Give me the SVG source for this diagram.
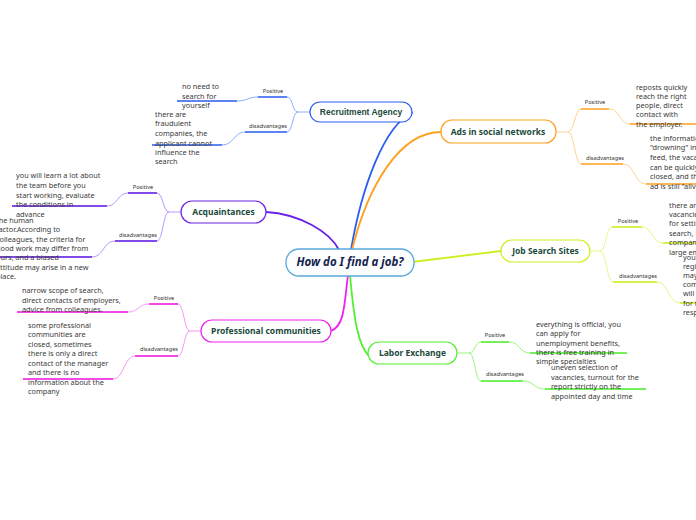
<svg xmlns="http://www.w3.org/2000/svg" width="696" height="520" viewBox="0 0 696 520">
<style>
.nt{font-family:"Noto Sans","Open Sans",sans-serif;font-weight:bold;font-size:8.5px;fill:#1b4a3c;text-anchor:middle}
.tx{font-family:"Noto Sans","Open Sans",sans-serif;font-size:7.3px;fill:#3a3a3a}
.lb{font-family:"Noto Sans","Open Sans",sans-serif;font-size:5.6px;fill:#333;text-anchor:middle}
.node{fill:#fff;stroke-width:1.2}
.thin{fill:none;stroke-width:0.9}
.thick{fill:none;stroke-width:1.6}
.main{fill:none;stroke-width:1.8;stroke-linecap:round}
</style>
<rect width="696" height="520" fill="#fff"/>
<g id="connectors">
 <path class="main" stroke="#2a5cf0" d="M351,250 C362,185 385,125 412,113"/>
 <path class="main" stroke="#ffa01e" d="M352,250 C368,185 400,132 441,132"/>
 <path class="main" stroke="#6a22e8" d="M339,250 C330,232 300,214 266,212"/>
 <path class="main" stroke="#ccf01e" d="M412,262 L501,251"/>
 <path class="main" stroke="#ee22ee" d="M348,275 C344,305 345,325 331,331"/>
 <path class="main" stroke="#55ee33" d="M350,275 C354,320 358,345 369,356"/>
 <g stroke="#2a5cf0">
  <path class="thin" stroke="#7fa4ff" d="M310,112 L298,112 C292,112 293,97 287,97 M298,112 C292,112 293,132 287,132 M258,97 C248,97 247,101 237,101 M245,132 C234,132 234,145 222,145"/>
  <path class="thick" d="M258,97 H287 M177,101 H237 M245,132 H287 M152,145 H222"/>
 </g>
 <g stroke="#5a10e0">
  <path class="thin" stroke="#b28cff" d="M181,212 L169,212 C163,212 163,193 157,193 M169,212 C163,212 163,241 157,241 M128,193 C117,193 118,206 107,206 M115,241 C103,241 104,257 92,257"/>
  <path class="thick" d="M128,193 H157 M12,206 H107 M115,241 H157 M-2,257 H92"/>
 </g>
 <g stroke="#ee11dd">
  <path class="thin" stroke="#f58cf0" d="M201,331 L190,331 C184,331 184,304 178,304 M190,331 C184,331 184,356 178,356 M149,304 C138,304 139,312 128,312 M135,356 C124,356 124,379 113,379"/>
  <path class="thick" d="M149,304 H178 M17,312 H128 M135,356 H178 M23,379 H113"/>
 </g>
 <g stroke="#ffa01e">
  <path class="thin" stroke="#ffcc88" d="M556,132 L568,132 C574,132 575,109 581,109 M568,132 C574,132 575,164 581,164 M609,109 C620,109 619,124 630,124 M623,164 C635,164 634,184 646,184"/>
  <path class="thick" d="M581,109 H609 M630,124 H700 M581,164 H623 M646,184 H700"/>
 </g>
 <g stroke="#ccee10">
  <path class="thin" stroke="#e4f47a" d="M590,251 L600,251 C606,251 606,227 612,227 M600,251 C606,251 607,282 613,282 M642,227 C653,227 652,243 663,243 M657,282 C669,282 668,303 680,303"/>
  <path class="thick" d="M612,227 H642 M663,243 H700 M613,282 H657 M680,303 H700"/>
 </g>
 <g stroke="#44ee22">
  <path class="thin" stroke="#8ef070" d="M457,353 L469,353 C475,353 475,342 481,342 M469,353 C475,353 475,381 481,381 M509,342 C520,342 519,353 530,353 M523,381 C534,381 534,389 545,389"/>
  <path class="thick" d="M481,342 H509 M530,353 H627 M481,381 H523 M545,389 H646"/>
 </g>
</g>
<g id="central">
 <rect x="286" y="249" width="128" height="27" rx="13" fill="#fbfdff" stroke="#5aa8dc" stroke-width="1.3"/>
 <text x="350" y="266" font-family="'Noto Sans','Open Sans',sans-serif" font-size="11.5" font-weight="bold" font-style="italic" fill="#16244f" text-anchor="middle">How do I find a job?</text>
</g>
<g id="recruitment">
 <rect class="node" stroke="#2a5cf0" x="310" y="102" width="102" height="20" rx="10"/>
 <text class="nt" x="361" y="115" style="font-family:'Liberation Sans',sans-serif">Recruitment Agency</text>
 <text class="lb" x="273" y="93">Positive</text>
 <text class="lb" x="268" y="128">disadvantages</text>
 <text class="tx"><tspan x="182" y="89">no need to</tspan><tspan x="182" y="99">search for</tspan><tspan x="182" y="108">yourself</tspan></text>
 <text class="tx"><tspan x="155" y="117">there are</tspan><tspan x="155" y="126">fraudulent</tspan><tspan x="155" y="136">companies, the</tspan><tspan x="155" y="145.5">applicant cannot</tspan><tspan x="155" y="155">influence the</tspan><tspan x="155" y="164">search</tspan></text>
</g>
<g id="ads">
 <rect class="node" stroke="#ffa01e" x="441" y="120" width="115" height="23" rx="11"/>
 <text class="nt" x="498" y="135">Ads in social networks</text>
 <text class="lb" x="595" y="104">Positive</text>
 <text class="lb" x="605" y="160">disadvantages</text>
 <text class="tx"><tspan x="636" y="89.5">reposts quickly</tspan><tspan x="636" y="99">reach the right</tspan><tspan x="636" y="108">people, direct</tspan><tspan x="636" y="117">contact with</tspan><tspan x="636" y="126.5">the employer.</tspan></text>
 <text class="tx"><tspan x="650" y="140.5">the information is</tspan><tspan x="650" y="150">"drowning" in the</tspan><tspan x="650" y="160">feed, the vacancy</tspan><tspan x="650" y="169.5">can be quickly</tspan><tspan x="650" y="179">closed, and the</tspan><tspan x="650" y="188.5">ad is still "alive"</tspan></text>
</g>
<g id="acquaintances">
 <rect class="node" stroke="#6a22e8" x="181" y="201" width="85" height="22" rx="11"/>
 <text class="nt" x="223.5" y="215">Acquaintances</text>
 <text class="lb" x="143" y="189">Positive</text>
 <text class="lb" x="138" y="237">disadvantages</text>
 <text class="tx"><tspan x="16" y="177.5">you will learn a lot about</tspan><tspan x="16" y="187.5">the team before you</tspan><tspan x="16" y="197.5">start working, evaluate</tspan><tspan x="16" y="206.5">the conditions in</tspan><tspan x="16" y="216.5">advance</tspan></text>
 <text class="tx"><tspan x="-4" y="222.5">the human</tspan><tspan x="-4" y="231.5">factor.According to</tspan><tspan x="-4" y="241.5">colleagues, the criteria for</tspan><tspan x="-4" y="250.5">good work may differ from</tspan><tspan x="-4" y="260">ours, and a biased</tspan><tspan x="-4" y="269.5">attitude may arise in a new</tspan><tspan x="-4" y="279">place.</tspan></text>
</g>
<g id="jobsites">
 <rect class="node" stroke="#ccf01e" x="501" y="240" width="89" height="22" rx="11"/>
 <text class="nt" x="545.5" y="254">Job Search Sites</text>
 <text class="lb" x="628" y="223">Positive</text>
 <text class="lb" x="638" y="278">disadvantages</text>
 <text class="tx"><tspan x="669" y="207.5">there are many</tspan><tspan x="669" y="216.5">vacancies, filters</tspan><tspan x="669" y="226">for setting up a</tspan><tspan x="669" y="235.5">search, reviews of</tspan><tspan x="669" y="245">companies, a</tspan><tspan x="669" y="254.5">large employer base</tspan></text>
 <text class="tx"><tspan x="683" y="259.5">you need to</tspan><tspan x="683" y="268.5">register, there</tspan><tspan x="683" y="277.5">may be</tspan><tspan x="683" y="286.5">commission,</tspan><tspan x="683" y="296">will be paid</tspan><tspan x="683" y="305.5">for the</tspan><tspan x="683" y="315">response</tspan></text>
</g>
<g id="professional">
 <rect class="node" stroke="#ee22ee" x="201" y="320" width="130" height="22" rx="11"/>
 <text class="nt" x="266" y="334">Professional communities</text>
 <text class="lb" x="164" y="300">Positive</text>
 <text class="lb" x="159" y="351">disadvantages</text>
 <text class="tx"><tspan x="22" y="292.5">narrow scope of search,</tspan><tspan x="22" y="302.5">direct contacts of employers,</tspan><tspan x="22" y="311.5">advice from colleagues.</tspan></text>
 <text class="tx"><tspan x="28" y="327.5">some professional</tspan><tspan x="28" y="336.5">communities are</tspan><tspan x="28" y="346.5">closed, sometimes</tspan><tspan x="28" y="355.5">there is only a direct</tspan><tspan x="28" y="365.5">contact of the manager</tspan><tspan x="28" y="375">and there is no</tspan><tspan x="28" y="384.5">information about the</tspan><tspan x="28" y="394">company</tspan></text>
</g>
<g id="labor">
 <rect class="node" stroke="#55ee33" x="368" y="342" width="89" height="22" rx="11"/>
 <text class="nt" x="412.5" y="356">Labor Exchange</text>
 <text class="lb" x="495" y="337">Positive</text>
 <text class="lb" x="505" y="376">disadvantages</text>
 <text class="tx"><tspan x="536" y="326.5">everything is official, you</tspan><tspan x="536" y="335.5">can apply for</tspan><tspan x="536" y="345.5">unemployment benefits,</tspan><tspan x="536" y="354.5">there is free training in</tspan><tspan x="536" y="364">simple specialties</tspan></text>
 <text class="tx"><tspan x="551" y="369.5">uneven selection of</tspan><tspan x="551" y="379.5">vacancies, turnout for the</tspan><tspan x="551" y="388.5">report strictly on the</tspan><tspan x="551" y="398.5">appointed day and time</tspan></text>
</g>
</svg>
